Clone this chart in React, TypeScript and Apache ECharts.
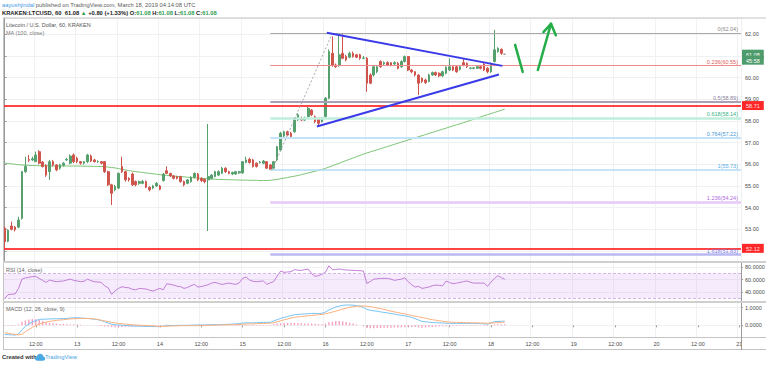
import React, { useEffect, useRef } from 'react';
import * as echarts from 'echarts';

const FONT = '"Liberation Sans", Arial, sans-serif';

// hourly axis: first candle = March 12, 03:00; axis runs to March 21, 00:00
const START_DAY = 12;
const START_HOUR = 3;
const HOUR_COUNT = 214;
const LABEL_HOURS = ['00:00', '12:00'];

// [open, high, low, close] hourly candles
const candles: number[][] = [
  [53.05,53.12,52.12,52.43],[52.45,53.0,52.4,52.95],[53.15,53.35,52.95,53.0],[53.1,53.15,52.9,52.98],[53.1,53.58,53.05,53.43],[53.5,55.7,53.45,55.66],[55.66,56.35,55.6,55.9],[56.22,56.43,56.1,56.18],[56.2,56.35,56.15,56.25],[56.12,56.58,56.1,56.43],
  [56.58,56.65,56.0,56.05],[56.1,56.15,55.85,55.9],[55.95,56.0,55.42,55.5],[55.66,56.2,55.28,56.12],[56.12,56.2,55.9,55.97],[55.97,56.0,55.68,55.74],[55.82,56.02,55.75,55.97],[55.95,56.1,55.9,56.05],[56.2,56.3,56.15,56.22],[56.05,56.45,56.0,56.38],
  [56.43,56.5,56.05,56.12],[56.28,56.35,56.05,56.12],[56.12,56.15,55.98,56.05],[56.05,56.15,55.98,56.12],[56.12,56.48,56.05,56.43],[56.38,56.45,56.1,56.15],[56.2,56.25,56.08,56.12],[56.12,56.18,56.06,56.13],[56.12,56.15,56.0,56.05],[56.12,56.15,55.6,55.66],
  [55.66,55.7,55.0,55.05],[55.05,55.1,54.12,54.66],[54.82,55.05,54.75,54.97],[54.9,55.62,54.85,55.58],[55.9,56.35,55.6,55.66],[55.66,55.7,55.2,55.28],[55.35,55.4,55.2,55.28],[55.55,55.62,55.0,55.05],[55.2,55.25,54.98,55.05],[55.12,55.25,55.05,55.2],
  [55.12,55.28,55.08,55.2],[55.2,55.25,54.9,54.94],[54.94,54.98,54.75,54.82],[54.9,55.05,54.85,55.0],[55.0,55.18,54.95,55.12],[55.0,55.05,54.8,54.85],[55.25,55.6,55.2,55.55],[55.7,55.9,55.55,55.58],[55.58,55.6,55.42,55.46],[55.46,55.5,55.3,55.35],
  [55.43,55.47,55.3,55.35],[55.43,55.47,55.15,55.2],[55.2,55.25,54.98,55.05],[55.12,55.32,55.08,55.28],[55.2,55.45,55.15,55.4],[55.4,55.62,55.35,55.58],[55.55,55.6,55.22,55.28],[55.35,55.4,55.18,55.25],[55.3,55.35,55.12,55.2],[55.28,57.86,52.92,55.43],
  [55.35,55.55,55.3,55.5],[55.43,55.7,55.4,55.66],[55.5,55.72,55.45,55.66],[55.58,55.88,55.55,55.82],[55.82,55.86,55.6,55.66],[55.66,55.7,55.54,55.58],[55.55,55.66,55.5,55.62],[55.55,55.7,55.52,55.66],[55.6,55.7,55.56,55.66],[55.6,56.15,55.56,56.12],
  [56.08,56.35,56.05,56.2],[56.23,56.3,56.03,56.08],[56.2,56.25,55.85,55.9],[56.05,56.08,55.85,55.9],[56.08,56.15,56.03,56.1],[56.05,56.2,56.0,56.15],[56.12,56.15,55.78,55.82],[55.97,56.0,55.73,55.76],[55.82,56.15,55.78,56.12],[56.2,56.85,56.15,56.81],
  [56.66,57.5,56.6,57.43],[57.3,57.55,57.25,57.5],[57.5,57.55,57.3,57.35],[57.43,57.5,57.2,57.28],[57.5,58.1,57.45,58.05],[58.05,58.35,58.0,58.28],[58.12,58.2,58.0,58.04],[58.04,58.2,58.0,58.12],[58.2,58.65,58.15,58.58],[58.5,58.55,58.22,58.28],
  [58.2,58.25,57.89,57.97],[58.12,58.15,57.8,57.89],[57.97,58.18,57.92,58.12],[58.2,59.1,58.15,59.05],[59.05,61.3,59.0,61.2],[61.12,61.9,60.5,60.58],[60.58,60.65,60.45,60.5],[60.58,62.04,60.5,61.05],[61.12,62.0,60.85,60.89],[60.97,61.05,60.75,60.82],
  [60.94,61.2,60.9,61.12],[61.12,61.2,60.92,60.97],[61.05,61.1,60.9,60.94],[61.05,61.1,60.82,60.89],[60.89,61.0,60.85,60.9],[60.89,60.95,59.35,59.74],[60.12,60.2,59.7,59.74],[60.12,60.55,60.05,60.5],[60.27,60.55,60.2,60.5],[60.74,60.8,60.45,60.5],
  [60.63,60.75,60.58,60.69],[60.69,60.75,60.52,60.58],[60.69,60.72,60.52,60.58],[60.63,60.75,60.58,60.69],[60.66,60.72,60.38,60.43],[60.5,60.8,60.45,60.74],[60.74,61.02,60.7,60.97],[60.97,61.0,60.3,60.35],[60.35,60.4,60.2,60.27],[60.27,60.3,60.05,60.12],
  [60.12,60.15,59.2,59.74],[59.97,60.0,59.75,59.82],[59.89,59.95,59.7,59.77],[59.82,60.18,59.78,60.12],[60.12,60.28,60.08,60.23],[60.23,60.28,60.08,60.12],[60.2,60.25,60.02,60.08],[60.08,60.32,60.02,60.27],[60.2,60.52,60.15,60.48],[60.35,60.89,60.3,60.5],
  [60.5,60.55,60.3,60.35],[60.5,60.55,60.22,60.27],[60.38,60.55,60.32,60.5],[60.69,60.89,60.52,60.58],[60.66,60.7,60.45,60.5],[60.43,60.48,60.38,60.44],[60.43,60.48,60.38,60.45],[60.43,60.55,60.4,60.5],[60.5,60.55,60.38,60.43],[60.63,60.68,60.3,60.35],
  [60.43,60.48,60.2,60.27],[60.27,60.7,60.22,60.66],[60.74,62.2,60.7,61.28],[61.2,61.4,61.15,61.35],[61.3,61.35,61.05,61.12],[61.08,61.08,61.08,61.08],
];

const ma100 = [
  56.05,56.04,56.02,56.0,55.98,55.97,55.96,55.95,55.94,55.94,
  55.93,55.93,55.93,55.93,55.92,55.92,55.92,55.92,55.92,55.92,
  55.92,55.92,55.92,55.91,55.91,55.91,55.9,55.9,55.9,55.89,
  55.87,55.85,55.83,55.8,55.77,55.74,55.71,55.68,55.66,55.64,
  55.62,55.6,55.58,55.56,55.54,55.52,55.5,55.49,55.47,55.46,
  55.44,55.43,55.42,55.4,55.39,55.37,55.36,55.35,55.34,55.33,
  55.32,55.31,55.3,55.3,55.29,55.29,55.28,55.28,55.27,55.27,
  55.27,55.26,55.26,55.26,55.25,55.25,55.25,55.26,55.28,55.3,
  55.33,55.36,55.39,55.42,55.45,55.48,55.52,55.56,55.6,55.64,
  55.68,55.72,55.76,55.81,55.87,55.93,55.99,56.05,56.11,56.17,
  56.23,56.29,56.35,56.41,56.47,56.52,56.57,56.62,56.67,56.72,
  56.77,56.82,56.87,56.92,56.97,57.02,57.07,57.12,57.17,57.22,
  57.27,57.32,57.37,57.42,57.47,57.52,57.57,57.62,57.67,57.72,
  57.77,57.82,57.87,57.92,57.97,58.02,58.08,58.13,58.19,58.24,
  58.29,58.34,58.39,58.44,58.49,58.54,
];

const rsi14 = [
  30,36,36.5,37,46,61,63,64,65,65.5,
  62,59,55.7,59.5,58,56.8,57.5,58,59.5,61,
  59,58,56.8,57.5,61,58.5,56.8,56.5,55.7,50,
  47,36.3,42,46,48.7,47.5,47,44.5,43.8,46,
  45.5,45,43,41.7,44,46,43.8,53.6,52.5,51.4,
  49.5,48.7,46,47.5,50.3,52.5,48.2,49,50.3,52,
  54.6,55.7,54,52.5,53.5,54.6,53.5,52.5,55,62.2,
  64.4,59.5,57.5,56.8,57.5,58,52.5,55,57,66,
  74,72,72.5,73,76.3,75.5,75,76.3,77.3,69.8,
  65.5,66.5,69,72,82.7,76.3,76.5,77.3,76.5,75.7,
  75.5,75.2,74.8,74.6,74,54,57,61,61.5,62.2,
  62.2,62.2,61,59,60,61,63.3,56.8,52,48.2,
  49.3,46,47,48.2,50.3,51.4,50.8,50.3,58,55.5,
  53.6,54.5,55.7,57,58,56,54.6,54.6,54.6,54.6,
  49.3,56,62,66.5,63.3,61,
];

const macdLine = [
  -0.52,-0.53,-0.54,-0.55,-0.5,-0.25,-0.06,0.08,0.19,0.27,
  0.33,0.35,0.35,0.36,0.37,0.37,0.38,0.38,0.39,0.41,
  0.43,0.43,0.42,0.4,0.39,0.37,0.35,0.32,0.27,0.2,
  0.13,0.06,0.03,0.02,0.01,-0.01,-0.02,-0.04,-0.04,-0.05,
  -0.05,-0.06,-0.06,-0.07,-0.07,-0.08,-0.05,-0.02,-0.01,-0.01,
  0,0,0,0,0.01,0.01,0.02,0.02,0.02,0.03,
  0.03,0.04,0.04,0.05,0.05,0.06,0.07,0.08,0.1,0.13,
  0.14,0.14,0.14,0.15,0.16,0.17,0.17,0.17,0.25,0.32,
  0.39,0.45,0.5,0.55,0.6,0.62,0.63,0.64,0.66,0.67,
  0.68,0.67,0.68,0.75,0.87,0.95,1.04,1.09,1.13,1.15,
  1.15,1.14,1.12,1.08,1.02,0.9,0.85,0.82,0.8,0.76,
  0.73,0.7,0.67,0.64,0.6,0.56,0.54,0.5,0.45,0.38,
  0.3,0.22,0.2,0.18,0.16,0.15,0.14,0.13,0.12,0.11,
  0.11,0.11,0.11,0.11,0.11,0.11,0.11,0.1,0.1,0.08,
  0.07,0.14,0.21,0.22,0.23,0.24,
];

const signalLine = [
  -0.42,-0.45,-0.48,-0.51,-0.54,-0.5,-0.36,-0.24,-0.11,-0.02,
  0.07,0.13,0.18,0.22,0.25,0.28,0.3,0.32,0.34,0.36,
  0.37,0.38,0.39,0.39,0.39,0.38,0.36,0.33,0.29,0.25,
  0.21,0.17,0.14,0.11,0.09,0.07,0.05,0.04,0.02,0.01,
  0,-0.01,-0.02,-0.03,-0.05,-0.06,-0.06,-0.05,-0.04,-0.03,
  -0.03,-0.02,-0.02,-0.02,-0.02,-0.02,-0.02,-0.01,-0.01,0,
  0,0.01,0.02,0.02,0.03,0.03,0.04,0.04,0.05,0.06,
  0.07,0.08,0.08,0.09,0.1,0.1,0.11,0.12,0.15,0.2,
  0.26,0.31,0.36,0.41,0.45,0.48,0.5,0.52,0.54,0.56,
  0.58,0.6,0.62,0.65,0.7,0.75,0.8,0.86,0.92,0.97,
  1.02,1.05,1.08,1.09,1.1,1.08,1.06,1.02,0.98,0.94,
  0.9,0.85,0.8,0.76,0.72,0.68,0.65,0.6,0.56,0.52,
  0.48,0.44,0.4,0.36,0.32,0.29,0.26,0.23,0.2,0.19,
  0.17,0.17,0.16,0.16,0.15,0.15,0.14,0.14,0.13,0.13,
  0.12,0.13,0.14,0.15,0.17,0.18,
];

const macdHist = [
  -0.03,-0.03,-0.03,-0.03,0.05,0.2,0.28,0.33,0.35,0.34,
  0.3,0.24,0.18,0.14,0.12,0.1,0.08,0.07,0.06,0.05,
  0.05,0.05,0.04,0.02,0.01,0,-0.01,-0.02,-0.04,-0.06,
  -0.08,-0.1,-0.11,-0.11,-0.1,-0.09,-0.08,-0.08,-0.07,-0.06,
  -0.06,-0.05,-0.05,-0.04,-0.03,-0.03,0.01,0.03,0.03,0.02,
  0.02,0.02,0.02,0.02,0.02,0.03,0.03,0.03,0.03,0.03,
  0.03,0.03,0.02,0.02,0.02,0.02,-0.02,-0.02,-0.02,-0.02,
  -0.02,-0.02,-0.02,-0.02,-0.02,-0.02,-0.02,-0.02,0.08,0.1,
  0.12,0.13,0.13,0.13,0.14,0.13,0.12,0.11,0.11,0.1,
  0.09,0.07,0.06,0.1,0.17,0.2,0.24,0.24,0.22,0.19,
  0.14,0.1,0.05,0,-0.06,-0.14,-0.16,-0.16,-0.15,-0.15,
  -0.14,-0.14,-0.13,-0.12,-0.12,-0.11,-0.11,-0.1,-0.1,-0.1,
  -0.12,-0.13,-0.12,-0.1,-0.09,-0.08,-0.07,-0.06,-0.05,-0.05,
  -0.04,-0.04,-0.03,-0.03,-0.03,-0.03,-0.02,-0.02,-0.02,-0.03,
  -0.04,0.01,0.05,0.06,0.06,0.06,
];

// Fibonacci retracement drawn from the swing low to the swing high
const fibStartHour = 77;
const fibRatios = ['0', '0.236', '0.5', '0.618', '0.764', '1', '1.236', '1.618'];
const fibPrices = [62.04, 60.55, 58.89, 58.14, 57.22, 55.73, 54.24, 51.83];
const fibLineColors = ['#a9a9a9', '#f08c8c', '#ab9fb8', '#bfeedd', '#c3e3f6', '#b2dbf3', '#e6c8f7', '#b9b9f2'];
const fibTextColors = ['#8a8a8a', '#e06060', '#8c7f9c', '#3bb38a', '#4b96d2', '#5aaee2', '#b06ae0', '#7d7de6'];
const fibLineWidths = [1, 1, 2, 2.5, 2, 1.5, 2.5, 2.5];

// horizontal support lines and the last price
const supportLevels = [58.71, 52.12];
const lastPrice = 61.08;
const countdown = '45:58';

// hand drawn annotations: [hour index, price]
const swingLine = [[77.5, 55.73], [95, 62.04]];
const triangleUpper = [[93.4, 62.07], [144.3, 60.54]];
const triangleLower = [[90.5, 57.74], [143.3, 60.14]];
const arrowStroke = [[148, 61.51], [150.2, 60.26]];
const arrowShaft = [[154.6, 60.35], [158.4, 62.48]];
const arrowHeadLeft = [[156.2, 62.1], [158.4, 62.48]];
const arrowHeadRight = [[158.4, 62.48], [159.8, 61.95]];

const categories: string[] = [];
for (let i = 0; i < HOUR_COUNT; i++) {
  const h = START_HOUR + i;
  const day = START_DAY + Math.floor(h / 24);
  const hh = String(h % 24).padStart(2, '0');
  categories.push(`${day} ${hh}:00`);
}
const isMajor = (_idx: number, value: string) => LABEL_HOURS.some((t) => value.endsWith(' ' + t));
const timeFormatter = (value: string) => {
  const [d, t] = value.split(' ');
  return t === '00:00' ? d : t;
};

// price tick labels hidden behind the boxed price labels on the axis
const coveredLevels = [...supportLevels, lastPrice];

const AX_TEXT = '#4a4a4a';
const GRID_LINE = '#f0f1f3';

function catAxis(gridIndex: number, showLabels: boolean) {
  return {
    type: 'category',
    gridIndex,
    data: categories,
    boundaryGap: true,
    axisLine: { show: false },
    axisTick: { show: showLabels, interval: isMajor, alignWithLabel: true, length: 2, lineStyle: { color: '#999' } },
    axisLabel: { show: showLabels, interval: isMajor, formatter: timeFormatter, fontSize: 5.5, color: AX_TEXT, margin: 4, fontFamily: FONT },
    splitLine: { show: true, interval: isMajor, lineStyle: { color: GRID_LINE } },
  };
}

function valueAxis(gridIndex: number, min: number, max: number, step: number, digits: number, covered: number[] = []) {
  return {
    type: 'value',
    gridIndex,
    position: 'right',
    min,
    max,
    minInterval: step,
    maxInterval: step,
    axisLine: { show: true, lineStyle: { color: '#9a9a9a' } },
    axisTick: { show: true, length: 2, lineStyle: { color: '#9a9a9a' } },
    axisLabel: {
      fontSize: 5.5, color: AX_TEXT, margin: 4, fontFamily: FONT,
      showMinLabel: false, showMaxLabel: false,
      formatter: (v: number) => (covered.some((c) => Math.abs(c - v) < 0.2) ? '' : v.toFixed(digits)),
    },
    splitLine: { show: true, lineStyle: { color: GRID_LINE } },
  };
}

function seg(pts: number[][], lineStyle: any) {
  return [{ coord: pts[0], lineStyle }, { coord: pts[1], lineStyle }];
}

const boxStyle = (bg: string) => ({
  backgroundColor: bg, color: '#ffffff', padding: [2, 4, 1, 4], fontSize: 5.5, fontFamily: FONT, lineHeight: 6,
});

function buildOption() {
  const annotation: any[] = [];
  fibPrices.forEach((p, i) => {
    const ls = { color: fibLineColors[i], width: fibLineWidths[i], type: 'solid', opacity: 1 };
    annotation.push([
      {
        coord: [fibStartHour, p],
        lineStyle: ls,
        label: {
          show: true, position: 'insideEndTop', distance: [3, 1],
          formatter: `${fibRatios[i]}(${p.toFixed(2)})`,
          color: fibTextColors[i], fontSize: 5.5, fontFamily: FONT,
        },
      },
      { coord: [HOUR_COUNT - 0.5, p], lineStyle: ls },
    ]);
  });
  supportLevels.forEach((p) => {
    annotation.push({
      yAxis: p,
      lineStyle: { color: '#ff3030', width: 2, type: 'solid', opacity: 0.9 },
      label: {
        show: true, position: 'end', distance: 1, formatter: `{a|${p.toFixed(2)}}`,
        rich: { a: boxStyle('#ff1010') },
      },
    });
  });
  annotation.push({
    yAxis: lastPrice,
    lineStyle: { color: 'rgba(255,255,255,0)', width: 0.5, type: 'solid', opacity: 1 },
    label: {
      show: true, position: 'end', distance: 1, opacity: 1,
      formatter: `{h| }\n{a|${lastPrice.toFixed(2)}}\n{a|${countdown}}`,
      rich: {
        h: { fontSize: 5.5, lineHeight: 6, padding: [2, 0, 1, 0] },
        a: boxStyle('#4e9b6c'),
      },
    },
  });
  annotation.push(seg(swingLine, { color: '#a8a8a8', width: 1, type: [2, 2] }));
  annotation.push(seg(triangleUpper, { color: '#3a3ae8', width: 2, type: 'solid' }));
  annotation.push(seg(triangleLower, { color: '#3a3ae8', width: 2, type: 'solid' }));
  [arrowStroke, arrowShaft, arrowHeadLeft, arrowHeadRight].forEach((a) =>
    annotation.push(seg(a, { color: '#24ad48', width: 2.5, type: 'solid', cap: 'round' }))
  );

  const candleData = candles.map(([o, h, l, c]) => [o, c, l, h]);

  return {
    animation: false,
    backgroundColor: '#ffffff',
    textStyle: { fontFamily: FONT },
    grid: [
      { left: 3, top: 18, width: 738, height: 244 },
      { left: 3, top: 262, width: 738, height: 40 },
      { left: 3, top: 302, width: 738, height: 35 },
    ],
    xAxis: [
      catAxis(0, false),
      catAxis(1, false),
      catAxis(2, true),
      { type: 'value', gridIndex: 0, min: -0.5, max: HOUR_COUNT - 0.5, show: false },
    ],
    yAxis: [
      valueAxis(0, 51.49, 62.75, 1, 2, coveredLevels),
      valueAxis(1, 24, 88.7, 20, 4),
      valueAxis(2, -0.66, 1.32, 1, 4),
    ],
    series: [
      {
        type: 'line', xAxisIndex: 0, yAxisIndex: 0, data: ma100, symbol: 'none',
        lineStyle: { color: '#7cc474', width: 1 }, silent: true, z: 1,
      },
      {
        type: 'candlestick', xAxisIndex: 0, yAxisIndex: 0, data: candleData, barWidth: '62%',
        itemStyle: {
          color: '#56a06e', color0: '#cf544c', borderColor: '#56a06e', borderColor0: '#cf544c',
          borderColorDoji: '#9a9a9a', borderWidth: 1,
        },
        silent: true, z: 3,
      },
      {
        type: 'line', xAxisIndex: 3, yAxisIndex: 0, data: [], symbol: 'none', silent: true, z: 4,
        markLine: { silent: true, symbol: ['none', 'none'], animation: false, label: { show: false }, data: annotation },
      },
      {
        type: 'line', xAxisIndex: 1, yAxisIndex: 1, data: rsi14, symbol: 'none', silent: true,
        lineStyle: { color: '#c27ed7', width: 1 },
        markArea: { silent: true, itemStyle: { color: 'rgba(186,120,235,0.15)' }, data: [[{ yAxis: 70 }, { yAxis: 30 }]] },
        markLine: {
          silent: true, symbol: ['none', 'none'], label: { show: false },
          lineStyle: { color: '#d2b6e3', type: [3, 2], width: 1 },
          data: [{ yAxis: 70 }, { yAxis: 30 }],
        },
      },
      {
        type: 'bar', xAxisIndex: 2, yAxisIndex: 2, data: macdHist, barWidth: 1.4, silent: true,
        itemStyle: { color: '#f5a0c0' },
      },
      {
        type: 'line', xAxisIndex: 2, yAxisIndex: 2, data: macdLine, symbol: 'none', silent: true,
        lineStyle: { color: '#76c3f3', width: 1 },
      },
      {
        type: 'line', xAxisIndex: 2, yAxisIndex: 2, data: signalLine, symbol: 'none', silent: true,
        lineStyle: { color: '#fbb07c', width: 1 },
      },
    ],
    graphic: [
      {
        type: 'text', x: 2, y: 5, z: 100,
        style: {
          text: '{u|aayushjindal} published on TradingView.com, March 18, 2019 04:14:08 UTC',
          fill: '#5a5a5a', fontSize: 5.8, fontFamily: FONT, verticalAlign: 'middle',
          rich: { u: { fill: '#3f98df', color: '#3f98df', fontSize: 5.8, fontFamily: FONT } },
        },
      },
      {
        type: 'text', x: 2, y: 13, z: 100,
        style: {
          text: '{b|KRAKEN:LTCUSD, 60  61.08} {g|▲} {b|+0.80 (+1.33%)} {b|O:}{g|61.08} {b|H:}{g|61.08} {b|L:}{g|61.08} {b|C:}{g|61.08}',
          fill: '#222', fontSize: 5.8, fontFamily: FONT, verticalAlign: 'middle',
          rich: {
            b: { fill: '#222', color: '#222', fontWeight: 'bold', fontSize: 5.8, fontFamily: FONT },
            g: { fill: '#2f9e52', color: '#2f9e52', fontWeight: 'bold', fontSize: 5.8, fontFamily: FONT },
          },
        },
      },
      {
        type: 'text', x: 6, y: 25, z: 100,
        style: { text: 'Litecoin / U.S. Dollar, 60, KRAKEN', fill: '#555', fontSize: 5.5, fontFamily: FONT, verticalAlign: 'middle' },
      },
      {
        type: 'text', x: 6, y: 32.5, z: 100,
        style: { text: 'MA (100, close)', fill: '#777', fontSize: 5.5, fontFamily: FONT, verticalAlign: 'middle' },
      },
      {
        type: 'text', x: 6, y: 270, z: 100,
        style: { text: 'RSI (14, close)', fill: '#666', fontSize: 5.5, fontFamily: FONT, verticalAlign: 'middle' },
      },
      {
        type: 'text', x: 6, y: 309, z: 100,
        style: { text: 'MACD (12, 26, close, 9)', fill: '#666', fontSize: 5.5, fontFamily: FONT, verticalAlign: 'middle' },
      },
      {
        type: 'text', x: 2, y: 357, z: 100,
        style: { text: 'Created with', fill: '#333', fontWeight: 'bold', fontSize: 5.8, fontFamily: FONT, verticalAlign: 'middle' },
      },
      {
        type: 'tvcloud', x: 35, y: 353.5, scaleX: 0.6, scaleY: 0.6, z: 100,
        style: { fill: '#4aa8e2', stroke: 'none' },
      },
      {
        type: 'text', x: 45, y: 357, z: 100,
        style: { text: 'TradingView', fill: '#3f9ee0', fontSize: 5.8, fontFamily: FONT, verticalAlign: 'middle' },
      },
      // frame
      { type: 'rect', z: 99, shape: { x: 742, y: 338, width: 26, height: 10.5 }, style: { fill: '#ffffff' } },
      { type: 'line', z: 100, shape: { x1: 3, y1: 18, x2: 766, y2: 18 }, style: { stroke: '#c4c4c4', lineWidth: 1 } },
      { type: 'line', z: 100, shape: { x1: 3.5, y1: 18, x2: 3.5, y2: 349 }, style: { stroke: '#c4c4c4', lineWidth: 1 } },
      { type: 'line', z: 100, shape: { x1: 3, y1: 262, x2: 766, y2: 262 }, style: { stroke: '#cfcfcf', lineWidth: 2 } },
      { type: 'line', z: 100, shape: { x1: 3, y1: 302, x2: 766, y2: 302 }, style: { stroke: '#cfcfcf', lineWidth: 2 } },
      { type: 'line', z: 100, shape: { x1: 3, y1: 337.5, x2: 766, y2: 337.5 }, style: { stroke: '#c4c4c4', lineWidth: 1 } },
      { type: 'line', z: 100, shape: { x1: 3, y1: 349.5, x2: 766, y2: 349.5 }, style: { stroke: '#c4c4c4', lineWidth: 1 } },
      { type: 'line', z: 100, shape: { x1: 741.5, y1: 337, x2: 741.5, y2: 350 }, style: { stroke: '#9a9a9a', lineWidth: 1 } },
    ],
  };
}

const CLOUD_PATH = 'M4 12 C1.5 12 0 10.5 0 8.5 C0 6.6 1.4 5.2 3.2 5 C3.8 2.2 6 0.5 8.6 0.5 C11.4 0.5 13.6 2.5 14 5.2 C15.9 5.5 17 7 17 8.7 C17 10.6 15.5 12 13.6 12 Z';

export default function App() {
  const ref = useRef<HTMLDivElement>(null);
  useEffect(() => {
    if (!ref.current) return;
    try {
      echarts.graphic.registerShape('tvcloud', echarts.graphic.extendPath(CLOUD_PATH, {}));
    } catch (e) {
      /* already registered */
    }
    const chart = echarts.init(ref.current, null, { renderer: 'svg' });
    chart.setOption(buildOption() as any);
    return () => chart.dispose();
  }, []);
  return (
    <div
      ref={ref}
      style={{ position: 'absolute', left: 0, top: 0, width: 768, height: 365, background: '#ffffff' }}
    />
  );
}
